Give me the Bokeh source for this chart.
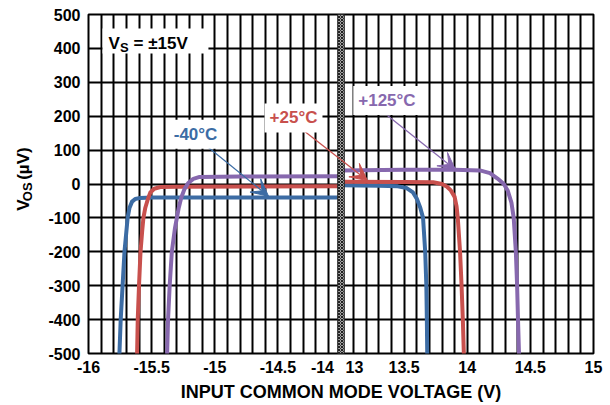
import math
from bokeh.plotting import figure
from bokeh.layouts import row
from bokeh.models import Range1d, FixedTicker, Label, Arrow, VeeHead, BoxAnnotation
from bokeh.embed import file_html
from bokeh.resources import INLINE

FONT = "Liberation Sans"

# ---- data (x in volts, y in microvolts) ----
m40_left_x = [-15.755, -15.745, -15.73, -15.715, -15.70, -15.69, -15.675, -15.655, -15.63, -15.59, -15.5, -15.0, -14.5, -14.0]
m40_left_y = [-500, -400, -300, -200, -140, -100, -70, -52, -44, -41, -40, -40, -40, -40]
m40_right_x = [13.0, 13.3, 13.45, 13.52, 13.57, 13.60, 13.628, 13.65, 13.667, 13.676, 13.68, 13.683]
m40_right_y = [-4, -5, -7, -12, -25, -43, -70, -100, -200, -300, -400, -500]

p25_left_x = [-15.615, -15.61, -15.60, -15.588, -15.575, -15.565, -15.55, -15.53, -15.51, -15.48, -15.43, -15.3, -14.0]
p25_left_y = [-500, -400, -300, -200, -140, -100, -70, -45, -25, -14, -9, -8, -7]
p25_right_x = [13.0, 13.5, 13.73, 13.80, 13.84, 13.87, 13.90, 13.915, 13.925, 13.943, 13.955, 13.965, 13.973]
p25_right_y = [7, 6, 5, 0, -8, -19, -38, -65, -100, -200, -300, -400, -500]

p125_left_x = [-15.377, -15.37, -15.357, -15.34, -15.315, -15.30, -15.285, -15.265, -15.24, -15.21, -15.17, -15.12, -14.8, -14.0]
p125_left_y = [-500, -400, -300, -200, -130, -100, -70, -40, -15, 3, 15, 21, 22, 23]
p125_right_x = [13.0, 13.5, 13.9, 14.1, 14.18, 14.24, 14.29, 14.32, 14.35, 14.368, 14.385, 14.395, 14.402, 14.41]
p125_right_y = [40, 42, 42, 40, 32, 16, 0, -19, -55, -100, -200, -300, -400, -500]

x_tick_labels = ["-16", "-15.5", "-15", "-14.5", "-14", "13", "13.5", "14", "14.5", "15"]
y_ticks = [-500, -400, -300, -200, -100, 0, 100, 200, 300, 400, 500]

BLUE = "#3c6ca4"
RED = "#c8504d"
PURPLE = "#8768ae"

H = 404  # height of the y-title canvas
YT_W = 40


def u(xs):
    """broken axis: -16..-14 -> 0..2, 13..15 -> 2..4"""
    return [x + 16 if x < 0 else x - 11 for x in xs]


p = figure(frame_width=505, frame_height=339, output_backend="svg", toolbar_location=None,
           x_range=Range1d(0, 4), y_range=Range1d(-500, 500),
           min_border_left=88 - YT_W, min_border_right=12, min_border_top=14, min_border_bottom=0)

p.outline_line_color = "black"
p.outline_line_width = 2
p.background_fill_color = "white"

# grids
p.xgrid.ticker = FixedTicker(ticks=[i * 0.1 for i in range(41)])
p.ygrid.ticker = FixedTicker(ticks=[float(v) for v in y_ticks])
for g in (p.xgrid, p.ygrid):
    g.grid_line_color = "black"
    g.grid_line_width = 2
    g.grid_line_alpha = 1

# axes
xt = [0.0, 0.5, 1.0, 1.5, 1.853, 2.107, 2.5, 3.0, 3.5, 4.0]
p.xaxis.ticker = FixedTicker(ticks=xt)
p.xaxis.major_label_overrides = {t: lab for t, lab in zip(xt, x_tick_labels)}
p.yaxis.ticker = FixedTicker(ticks=[float(v) for v in y_ticks])
p.yaxis.major_label_overrides = {float(v): str(v) for v in y_ticks}
for ax in (p.xaxis, p.yaxis):
    ax.axis_line_color = None
    ax.major_tick_line_color = None
    ax.minor_tick_line_color = None
    ax.major_tick_in = 0
    ax.major_tick_out = 0
    ax.major_label_text_font = FONT
    ax.major_label_text_font_style = "bold"
    ax.major_label_text_font_size = "16px"
    ax.major_label_text_color = "black"
p.xaxis.major_label_standoff = 7
p.yaxis.major_label_standoff = 8
p.xaxis.axis_label = "INPUT COMMON MODE VOLTAGE (V)"
p.xaxis.axis_label_text_font = FONT
p.xaxis.axis_label_text_font_style = "bold"
p.xaxis.axis_label_text_font_size = "18px"
p.xaxis.axis_label_text_color = "black"
p.xaxis.axis_label_standoff = 6

# curves
for xs, ys, c in [(m40_left_x, m40_left_y, BLUE), (m40_right_x, m40_right_y, BLUE),
                  (p25_left_x, p25_left_y, RED), (p25_right_x, p25_right_y, RED),
                  (p125_left_x, p125_left_y, PURPLE), (p125_right_x, p125_right_y, PURPLE)]:
    p.line(u(xs), ys, line_color=c, line_width=4, line_join="round", line_cap="round")

# axis break bar
p.add_layout(BoxAnnotation(left=2 - 0.026, right=2 + 0.026, fill_color="#a8a8a8", fill_alpha=1,
                           hatch_pattern="x", hatch_color="#222222", hatch_scale=3, hatch_weight=1,
                           line_color="#222222", line_width=1, line_alpha=1))

# V_S box
p.add_layout(BoxAnnotation(left=0.111, right=0.95, bottom=385, top=459, fill_color="white",
                           fill_alpha=1, line_color=None))


def lab(fig, text, x, y, size="17px", color="black", units="screen", **kw):
    d = dict(x=x, y=y, x_units=units, y_units=units, text=text, text_font=FONT,
             text_font_style="bold", text_font_size=size, text_color=color,
             text_align="left", text_baseline="alphabetic")
    d.update(kw)
    fig.add_layout(Label(**d))


lab(p, "V", 20, 310)
lab(p, "S", 31.5, 306, size="13px")
lab(p, "= \u00b115V", 45, 310)

# arrows + temperature labels
for (xs, ys, xe, ye, c) in [(0.950, 108, 1.426, -36, BLUE),
                            (1.703, 158, 2.210, 10, RED),
                            (2.368, 202, 2.907, 42, PURPLE)]:
    p.add_layout(Arrow(x_start=xs, y_start=ys, x_end=xe, y_end=ye, line_color=c, line_width=1.3,
                       end=VeeHead(size=17, fill_color=c, line_color=c)))

for (t, x, y, c) in [("-40\u00b0C", 0.848, 147, BLUE), ("+25\u00b0C", 1.624, 195, RED),
                     ("+125\u00b0C", 2.364, 246, PURPLE)]:
    p.add_layout(Label(x=x, y=y, text=t, text_font=FONT, text_font_style="bold",
                       text_font_size="17px", text_color=c, text_align="center",
                       text_baseline="middle", background_fill_color="white",
                       background_fill_alpha=1, padding=5))

# narrow figure on the left holding the rotated y-axis title (data units = page pixels)
yt = figure(width=YT_W, height=H, output_backend="svg", toolbar_location=None,
            x_range=Range1d(0, YT_W), y_range=Range1d(H, 0), min_border=0,
            x_axis_location=None, y_axis_location=None)
yt.grid.visible = False
yt.outline_line_color = None
lab(yt, "V", 23, 234, units="data", angle=math.pi / 2, text_baseline="middle")
lab(yt, "OS", 27, 222.5, size="13px", units="data", angle=math.pi / 2, text_baseline="middle")
lab(yt, "(\u00b5V)", 23, 197, units="data", angle=math.pi / 2, text_baseline="middle")

layout = row(yt, p, spacing=0)
open("out.html", "w").write(file_html(layout, INLINE))
